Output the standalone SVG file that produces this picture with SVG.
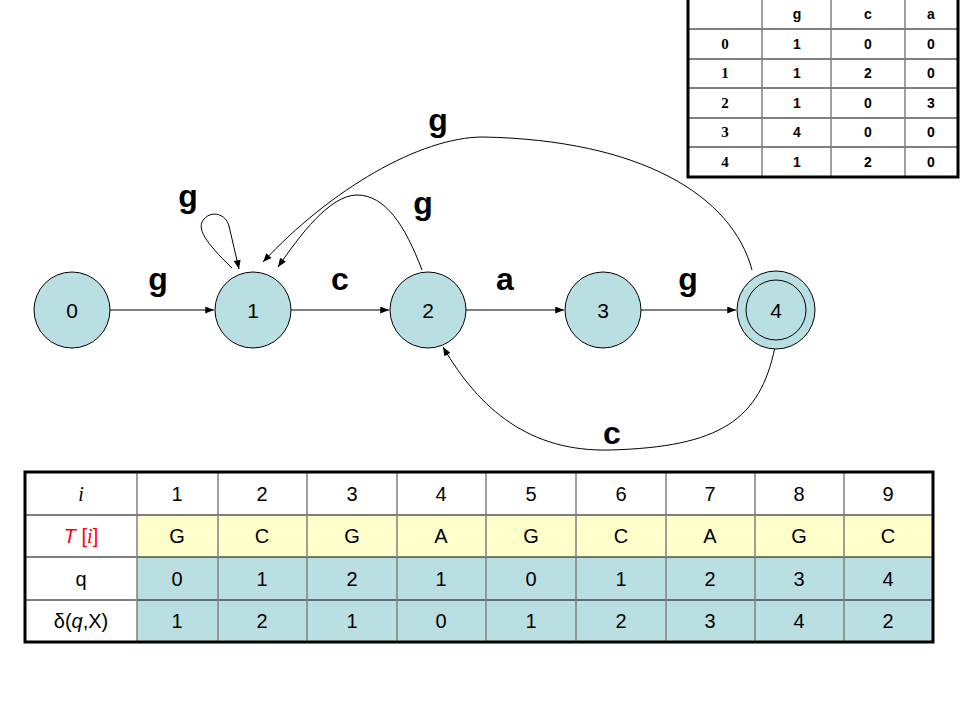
<svg xmlns="http://www.w3.org/2000/svg" width="960" height="720" viewBox="0 0 960 720">
<defs>
<marker id="arr" viewBox="0 0 10 8" refX="10" refY="4" markerWidth="10" markerHeight="7" markerUnits="userSpaceOnUse" orient="auto">
<path d="M0,0 L10,4 L0,8 Z" fill="#000"/>
</marker>
<style>
.node{fill:#B9DFE3;stroke:#000;stroke-width:1}
.nl{font-family:"Liberation Sans",Arial,sans-serif;font-size:21px;text-anchor:middle}
.el{font-family:"Liberation Sans",Arial,sans-serif;font-size:32px;font-weight:bold;text-anchor:middle}
.edge{fill:none;stroke:#000;stroke-width:1;marker-end:url(#arr)}
.tt{font-family:"Liberation Sans",Arial,sans-serif;font-size:14px;font-weight:bold;text-anchor:middle}
.tr{font-family:"Liberation Serif","Times New Roman",serif;font-size:15px;font-weight:bold;text-anchor:middle}
.bt{font-family:"Liberation Sans",Arial,sans-serif;font-size:20px;text-anchor:middle}
.grid{stroke:#808080;stroke-width:1.5}
.hgrid{stroke:#000;stroke-width:1}
</style>
</defs>
<rect width="960" height="720" fill="#fff"/>

<g id="connectors">
<line class="edge" x1="110" y1="310" x2="214" y2="310"/>
<line class="edge" x1="291" y1="310" x2="389" y2="310"/>
<line class="edge" x1="466" y1="310" x2="564" y2="310"/>
<line class="edge" x1="641" y1="310" x2="736" y2="310"/>
<path class="edge" d="M232,268 C205,242 196,228 204,219 C212,210 226,214 229,226 C232,240 236,255 239,269"/>
<path class="edge" d="M422,270 C405,225 385,195 357,195 C330,195 300,235 278,267"/>
<path class="edge" d="M752,270 C732,195 640,140 483,137 C420,137 330,190 263,262"/>
<path class="edge" d="M775,347 C760,420 720,447 610,450 C530,452 480,410 443,347"/>
</g>

<g id="edge-labels">
<text class="el" x="158" y="290">g</text>
<text class="el" x="340" y="290">c</text>
<text class="el" x="505" y="290">a</text>
<text class="el" x="688" y="290">g</text>
<text class="el" x="188" y="207">g</text>
<text class="el" x="423" y="214">g</text>
<text class="el" x="438" y="131">g</text>
<text class="el" x="612" y="444">c</text>
</g>

<g id="node0"><circle class="node" cx="72" cy="310" r="38"/><text class="nl" x="72" y="318">0</text></g>
<g id="node1"><circle class="node" cx="253" cy="310" r="38"/><text class="nl" x="253" y="318">1</text></g>
<g id="node2"><circle class="node" cx="428" cy="310" r="38"/><text class="nl" x="428" y="318">2</text></g>
<g id="node3"><circle class="node" cx="603" cy="310" r="38"/><text class="nl" x="603" y="318">3</text></g>
<g id="node4"><circle class="node" cx="776" cy="310" r="39"/><circle cx="776" cy="310" r="30" fill="none" stroke="#000" stroke-width="1"/><text class="nl" x="776" y="318">4</text></g>

<g id="transition-table">
<rect x="688" y="-2" width="270" height="180" fill="#fff"/>
<g class="hgrid">
<line x1="688" y1="29" x2="958" y2="29"/>
<line x1="688" y1="59" x2="958" y2="59"/>
<line x1="688" y1="88" x2="958" y2="88"/>
<line x1="688" y1="118" x2="958" y2="118"/>
<line x1="688" y1="147" x2="958" y2="147"/>
</g>
<g class="grid">
<line x1="762" y1="0" x2="762" y2="177"/>
<line x1="831" y1="0" x2="831" y2="177"/>
<line x1="905" y1="0" x2="905" y2="177"/>
</g>
<rect x="688" y="-2" width="270" height="179" fill="none" stroke="#000" stroke-width="3"/>
<text class="tt" x="797" y="19">g</text><text class="tt" x="868" y="19">c</text><text class="tt" x="931" y="19">a</text>
<text class="tr" x="725" y="49">0</text><text class="tt" x="797" y="49">1</text><text class="tt" x="868" y="49">0</text><text class="tt" x="931" y="49">0</text>
<text class="tr" x="725" y="78">1</text><text class="tt" x="797" y="78">1</text><text class="tt" x="868" y="78">2</text><text class="tt" x="931" y="78">0</text>
<text class="tr" x="725" y="108">2</text><text class="tt" x="797" y="108">1</text><text class="tt" x="868" y="108">0</text><text class="tt" x="931" y="108">3</text>
<text class="tr" x="725" y="137">3</text><text class="tt" x="797" y="137">4</text><text class="tt" x="868" y="137">0</text><text class="tt" x="931" y="137">0</text>
<text class="tr" x="725" y="167">4</text><text class="tt" x="797" y="167">1</text><text class="tt" x="868" y="167">2</text><text class="tt" x="931" y="167">0</text>
</g>

<g id="trace-table">
<rect x="25" y="472" width="908" height="170" fill="#fff"/>
<rect x="137" y="515" width="796" height="42" fill="#FFFFCC"/>
<rect x="137" y="557" width="796" height="85" fill="#B9DFE3"/>
<g class="hgrid">
<line x1="25" y1="515" x2="933" y2="515"/>
<line x1="25" y1="557" x2="933" y2="557"/>
<line x1="25" y1="600" x2="933" y2="600"/>
</g>
<g class="grid">
<line x1="137" y1="472" x2="137" y2="642"/>
<line x1="218" y1="472" x2="218" y2="642"/>
<line x1="307" y1="472" x2="307" y2="642"/>
<line x1="397" y1="472" x2="397" y2="642"/>
<line x1="486" y1="472" x2="486" y2="642"/>
<line x1="576" y1="472" x2="576" y2="642"/>
<line x1="666" y1="472" x2="666" y2="642"/>
<line x1="755" y1="472" x2="755" y2="642"/>
<line x1="844" y1="472" x2="844" y2="642"/>
</g>
<rect x="25" y="472" width="908" height="170" fill="none" stroke="#000" stroke-width="3"/>
<text x="81" y="501" font-family="'Liberation Serif','Times New Roman',serif" font-style="italic" font-size="20" text-anchor="middle">i</text>
<text x="81" y="543" font-size="20" text-anchor="middle" fill="#FF0000" font-family="'Liberation Sans',Arial,sans-serif"><tspan font-style="italic">T</tspan> [<tspan font-family="'Liberation Serif','Times New Roman',serif" font-style="italic">i</tspan>]</text>
<text class="bt" x="81" y="586">q</text>
<text class="bt" x="81" y="628">δ(<tspan font-style="italic">q</tspan>,X)</text>

<text class="bt" x="177" y="501">1</text><text class="bt" x="262" y="501">2</text><text class="bt" x="352" y="501">3</text><text class="bt" x="441" y="501">4</text><text class="bt" x="531" y="501">5</text><text class="bt" x="621" y="501">6</text><text class="bt" x="710" y="501">7</text><text class="bt" x="799" y="501">8</text><text class="bt" x="888" y="501">9</text>
<text class="bt" x="177" y="543">G</text><text class="bt" x="262" y="543">C</text><text class="bt" x="352" y="543">G</text><text class="bt" x="441" y="543">A</text><text class="bt" x="531" y="543">G</text><text class="bt" x="621" y="543">C</text><text class="bt" x="710" y="543">A</text><text class="bt" x="799" y="543">G</text><text class="bt" x="888" y="543">C</text>
<text class="bt" x="177" y="586">0</text><text class="bt" x="262" y="586">1</text><text class="bt" x="352" y="586">2</text><text class="bt" x="441" y="586">1</text><text class="bt" x="531" y="586">0</text><text class="bt" x="621" y="586">1</text><text class="bt" x="710" y="586">2</text><text class="bt" x="799" y="586">3</text><text class="bt" x="888" y="586">4</text>
<text class="bt" x="177" y="628">1</text><text class="bt" x="262" y="628">2</text><text class="bt" x="352" y="628">1</text><text class="bt" x="441" y="628">0</text><text class="bt" x="531" y="628">1</text><text class="bt" x="621" y="628">2</text><text class="bt" x="710" y="628">3</text><text class="bt" x="799" y="628">4</text><text class="bt" x="888" y="628">2</text>
</g>
</svg>
